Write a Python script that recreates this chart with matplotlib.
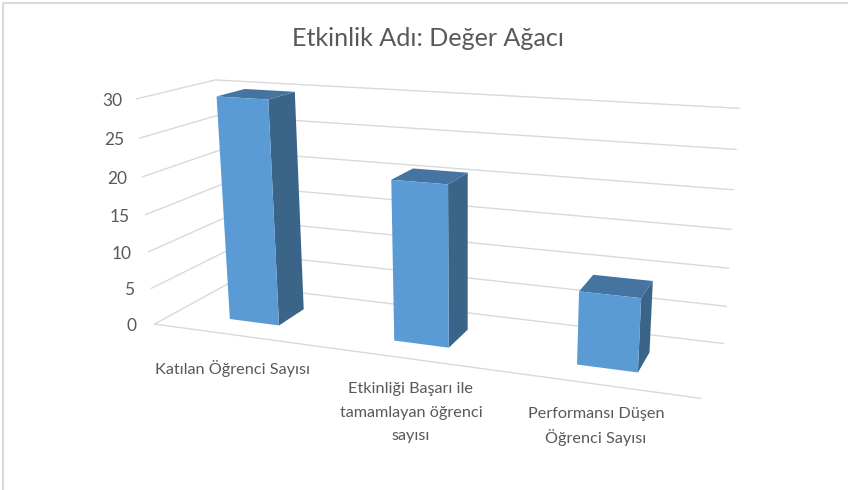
import numpy as np
import matplotlib
matplotlib.use("Agg")
import matplotlib.pyplot as plt
from matplotlib.patches import Polygon

title = "Etkinlik Adı: Değer Ağacı"
categories = ["Katılan Öğrenci Sayısı",
              "Etkinliği Başarı ile\ntamamlayan öğrenci\nsayısı",
              "Performansı Düşen\nÖğrenci Sayısı"]
values = [30, 21, 9.3]
ticks = [0, 5, 10, 15, 20, 25, 30]

plt.rcParams['font.family'] = ['Lato', 'DejaVu Sans']
TXT = '#595959'; GRID = '#d9d9d9'
FRONT = '#5b9bd5'; SIDE = '#3a6488'; TOP = '#44749f'

# calibration of the 3D box: (u along categories, value, w depth) -> pixel
anch3 = [(0,0,0),(0,30,0),(0,0,1),(0,30,1),(1,0,1),(1,30,1),(1,0,0)]
anch2 = [(153,325),(138,99),(229,283),(214,80),(723,345),(739,108),(701,397)]
A = []; b = []
for (X,Y,Z),(px,py) in zip(anch3,anch2):
    Y = Y/30
    A.append([X,Y,Z,1,0,0,0,0,-px*X,-px*Y,-px*Z]); b.append(px)
    A.append([0,0,0,0,X,Y,Z,1,-py*X,-py*Y,-py*Z]); b.append(py)
p = np.linalg.lstsq(np.array(A,float),np.array(b,float),rcond=None)[0]
P = np.append(p,1).reshape(3,4)
def proj(u,v,w):
    h = P @ np.array([u,v/30,w,1.0])
    return (h[0]/h[2],h[1]/h[2])

fig = plt.figure(figsize=(8.49,4.9),dpi=100)
ax = fig.add_axes([0,0,1,1])
ax.set_xlim(0,849); ax.set_ylim(490,0); ax.axis('off')

# chart frame
ax.plot([3.5,3.5,848],[490,3,3],color=GRID,lw=1.5,solid_capstyle='butt')

for t in ticks:
    pts = [proj(0,t,0),proj(0,t,1),proj(1,t,1)]
    ax.plot(*zip(*pts),color=GRID,lw=1.0,zorder=1)
    x,y = proj(0,t,0)
    ax.text(x-18+3.5*t/30,y+2,str(t),ha='right',va='center',fontsize=12.5,color=TXT)
ax.plot(*zip(proj(0,0,0),proj(1,0,0)),color=GRID,lw=1.0,zorder=1)

n = len(values)
bw = 0.31; bd0 = 0.28; bd1 = 0.66; shift = 0.001
for i,val in enumerate(values):
    u0 = (i+0.5)/n - bw/n/2 + shift
    u1 = (i+0.5)/n + bw/n/2 + shift
    fl0,fr0,bl0,br0 = proj(u0,0,bd0),proj(u1,0,bd0),proj(u0,0,bd1),proj(u1,0,bd1)
    fl1,fr1,bl1,br1 = proj(u0,val,bd0),proj(u1,val,bd0),proj(u0,val,bd1),proj(u1,val,bd1)
    z = 3+i
    ax.add_patch(Polygon([fr0,br0,br1,fr1],fc=SIDE,ec='none',zorder=z))
    ax.add_patch(Polygon([fl1,fr1,br1,bl1],fc=TOP,ec='none',zorder=z))
    ax.add_patch(Polygon([fl0,fr0,fr1,fl1],fc=FRONT,ec='none',zorder=z))

ax.text(428,38,title,ha='center',va='center',fontsize=18.1,color=TXT)
label_pos = [(233,368),(411,389),(596,414)]
for lab,(x,y) in zip(categories,label_pos):
    for k,line in enumerate(lab.split("\n")):
        ax.text(x,y+k*23.5,line,ha='center',va='center',fontsize=11.7,color=TXT)

fig.savefig("out.png",dpi=100)
